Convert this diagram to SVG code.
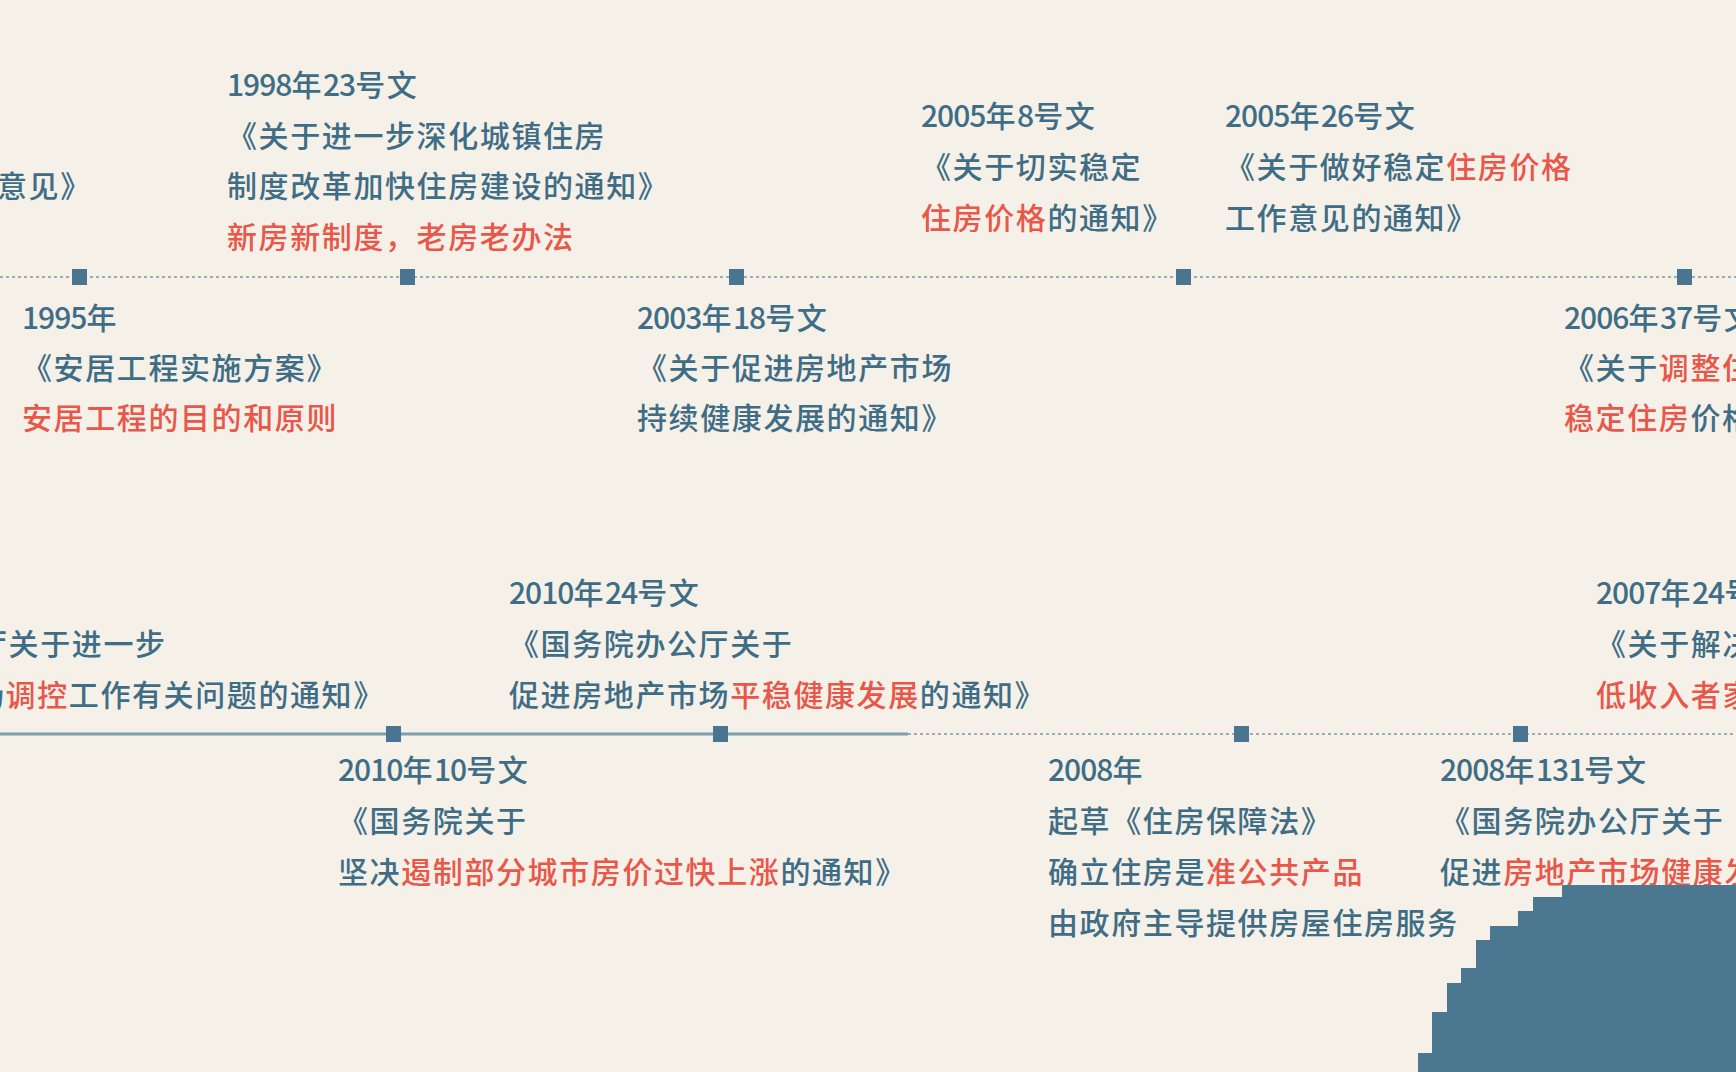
<svg xmlns="http://www.w3.org/2000/svg" width="1736" height="1072" viewBox="0 0 1736 1072">
<style>
text{font-family:"Noto Sans CJK SC","Noto Sans CJK TC",sans-serif;font-size:30px;font-weight:500;letter-spacing:1.6px;fill:#3f6d86}
.r{fill:#e8574a}
.d{letter-spacing:-1px}
.mk{fill:#4a7590}
.dot{stroke:#7c97a7;stroke-width:1.5;stroke-dasharray:3 3;fill:none}
.sol{stroke:#7d9db0;stroke-width:3;fill:none}
</style>
<rect width="1736" height="1072" fill="#f5f1e8"/>
<g id="connectors">
<line class="dot" x1="0" y1="277" x2="1736" y2="277"/>
<line class="sol" x1="0" y1="734" x2="908" y2="734"/>
<line class="dot" x1="908" y1="734" x2="1736" y2="734"/>
</g>
<g id="n-cut-top">
<text x="-3" y="197">意见》</text>
</g>
<g id="n1995">
<rect class="mk" x="72" y="269" width="15" height="16"/>
<text x="22" y="329"><tspan class="d">1995</tspan>年</text>
<text x="22" y="379">《安居工程实施方案》</text>
<text x="22" y="429" class="r">安居工程的目的和原则</text>
</g>
<g id="n1998">
<rect class="mk" x="400" y="269" width="15" height="16"/>
<text x="227" y="96"><tspan class="d">1998</tspan>年<tspan class="d">23</tspan>号文</text>
<text x="227" y="147">《关于进一步深化城镇住房</text>
<text x="227" y="197">制度改革加快住房建设的通知》</text>
<text x="227" y="248" class="r">新房新制度，老房老办法</text>
</g>
<g id="n2003">
<rect class="mk" x="729" y="269" width="15" height="16"/>
<text x="637" y="329"><tspan class="d">2003</tspan>年<tspan class="d">18</tspan>号文</text>
<text x="637" y="379">《关于促进房地产市场</text>
<text x="637" y="429">持续健康发展的通知》</text>
</g>
<g id="n2005-8">
<rect class="mk" x="1176" y="269" width="15" height="16"/>
<text x="921" y="127"><tspan class="d">2005</tspan>年<tspan class="d">8</tspan>号文</text>
<text x="921" y="178">《关于切实稳定</text>
<text x="921" y="229"><tspan class="r">住房价格</tspan>的通知》</text>
</g>
<g id="n2005-26">
<rect class="mk" x="1677" y="269" width="15" height="16"/>
<text x="1225" y="127"><tspan class="d">2005</tspan>年<tspan class="d">26</tspan>号文</text>
<text x="1225" y="178">《关于做好稳定<tspan class="r">住房价格</tspan></text>
<text x="1225" y="229">工作意见的通知》</text>
</g>
<g id="n2006-37">
<text x="1564" y="329"><tspan class="d">2006</tspan>年<tspan class="d">37</tspan>号文</text>
<text x="1564" y="379">《关于<tspan class="r">调整住</tspan></text>
<text x="1564" y="429"><tspan class="r">稳定住房</tspan>价格</text>
</g>
<g id="n-cut-bottom">
<text x="-23" y="655">厅关于进一步</text>
<text x="-26" y="706">场<tspan class="r">调控</tspan>工作有关问题的通知》</text>
</g>
<g id="n2010-10">
<rect class="mk" x="386" y="726" width="15" height="16"/>
<text x="338" y="781"><tspan class="d">2010</tspan>年<tspan class="d">10</tspan>号文</text>
<text x="338" y="832">《国务院关于</text>
<text x="338" y="883">坚决<tspan class="r">遏制部分城市房价过快上涨</tspan>的通知》</text>
</g>
<g id="n2010-24">
<rect class="mk" x="713" y="726" width="15" height="16"/>
<text x="509" y="604"><tspan class="d">2010</tspan>年<tspan class="d">24</tspan>号文</text>
<text x="509" y="655">《国务院办公厅关于</text>
<text x="509" y="706">促进房地产市场<tspan class="r">平稳健康发展</tspan>的通知》</text>
</g>
<g id="n2008">
<rect class="mk" x="1234" y="726" width="15" height="16"/>
<text x="1048" y="781"><tspan class="d">2008</tspan>年</text>
<text x="1048" y="832">起草《住房保障法》</text>
<text x="1048" y="883">确立住房是<tspan class="r">准公共产品</tspan></text>
<text x="1048" y="934">由政府主导提供房屋住房服务</text>
</g>
<g id="n2008-131">
<rect class="mk" x="1513" y="726" width="15" height="16"/>
<text x="1440" y="781"><tspan class="d">2008</tspan>年<tspan class="d">131</tspan>号文</text>
<text x="1440" y="832">《国务院办公厅关于</text>
<text x="1440" y="883">促进<tspan class="r">房地产市场健康发</tspan></text>
</g>
<g id="n2007-24">
<text x="1596" y="604"><tspan class="d">2007</tspan>年<tspan class="d">24</tspan>号文</text>
<text x="1596" y="655">《关于解决</text>
<text x="1596" y="706" class="r">低收入者家</text>
</g>
<polygon fill="#4b7890" points="1418,1072 1418,1053 1432,1053 1432,1012 1447,1012 1447,983 1461,983 1461,968 1476,968 1476,940 1490,940 1490,926 1518,926 1518,911 1533,911 1533,897 1562,897 1562,885 1736,885 1736,1072"/>
</svg>
